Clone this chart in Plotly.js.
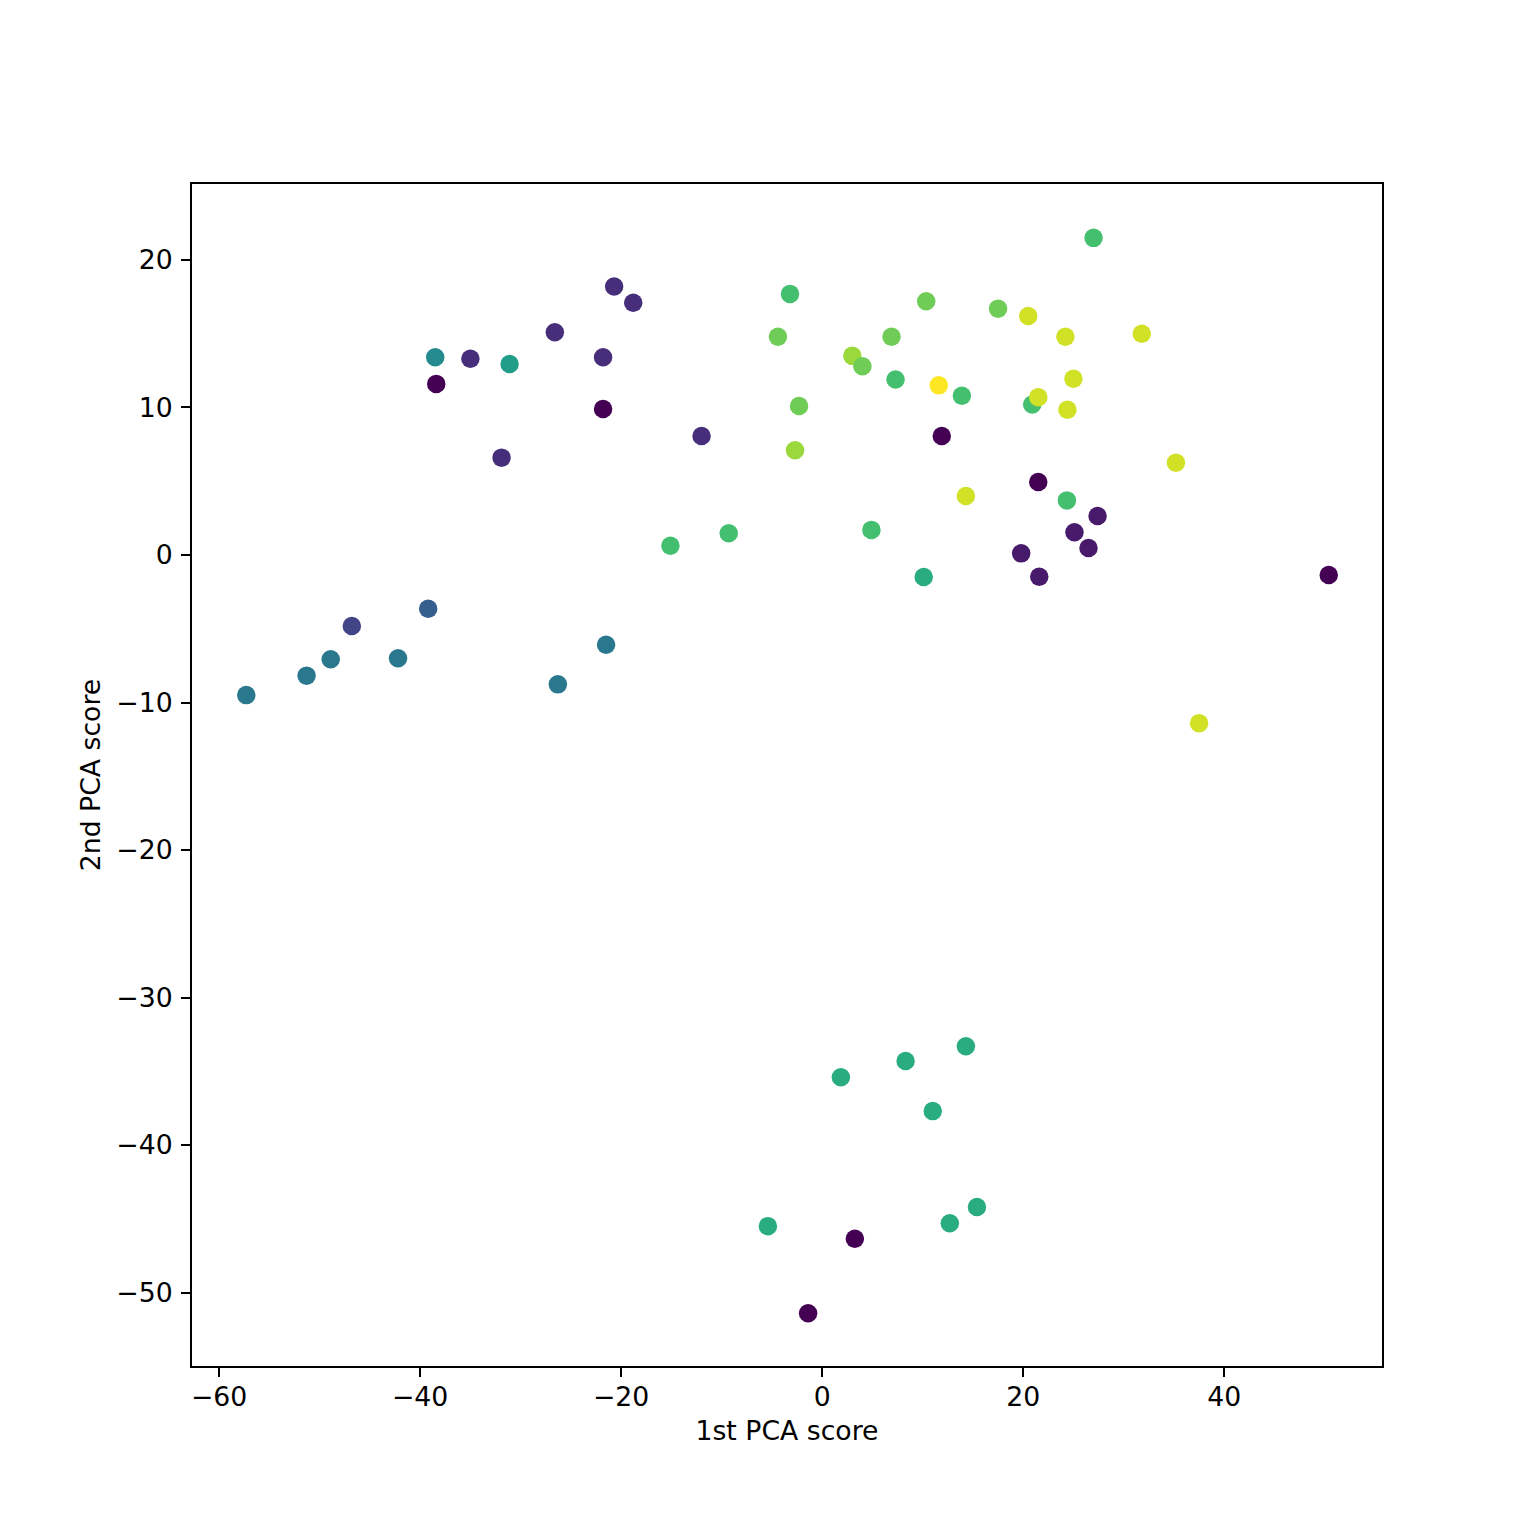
<!DOCTYPE html>
<html>
<head>
<meta charset="utf-8">
<script src="https://cdn.plot.ly/plotly-3.0.1.min.js"></script>
<style>html,body{margin:0;padding:0;background:#fff}</style>
</head>
<body>
<div id="chart" style="width:1536px;height:1536px"></div>
<script>
// 1st PCA score
const pc1 = [
  -20.7, -18.8, -26.6, -38.5, -35.0, -31.1, -38.4, -21.8, -21.8, -12.0, -31.9,
  27.0, -3.2, 10.35, 17.5, 20.5, -4.4, 6.9, 24.2, 31.8, 3.0, 4.0, 7.3, 11.6, 13.9, 20.9, 21.5, 25.0, 24.4, -2.3, -2.7, 11.9,
  35.2, 14.3, 21.5, 24.35, 27.4, 25.1, 26.5, 19.8, 21.6, 10.1, 50.4,
  -39.2, -46.8, -21.5, -42.2, -48.9, -51.3, -26.3, -57.3,
  -15.1, -9.3, 4.9,
  14.3, 8.3, 1.86, 11.0, 15.4, 12.7, -5.4, 3.25, -1.4,
  37.5
];
// 2nd PCA score
const pc2 = [
  18.2, 17.1, 15.1, 13.4, 13.3, 12.95, 11.6, 13.4, 9.9, 8.07, 6.6,
  21.5, 17.7, 17.2, 16.7, 16.2, 14.8, 14.8, 14.8, 15.0, 13.5, 12.8, 11.9, 11.5, 10.8, 10.2, 10.7, 11.95, 9.85, 10.1, 7.1, 8.07,
  6.26, 4.0, 4.95, 3.7, 2.64, 1.54, 0.47, 0.11, -1.47, -1.49, -1.36,
  -3.64, -4.81, -6.08, -7.0, -7.07, -8.18, -8.77, -9.5,
  0.63, 1.47, 1.7,
  -33.3, -34.3, -35.4, -37.7, -44.2, -45.3, -45.5, -46.35, -51.4,
  -11.4
];
// colour value (viridis, 0..1)
const group = [
  0.13, 0.13, 0.13, 0.47, 0.13, 0.55, 0.0, 0.13, 0.0, 0.13, 0.13,
  0.70, 0.70, 0.78, 0.78, 0.93, 0.78, 0.78, 0.93, 0.93, 0.85, 0.78, 0.70, 1.0, 0.70, 0.70, 0.93, 0.93, 0.93, 0.78, 0.85, 0.0,
  0.93, 0.93, 0.0, 0.70, 0.07, 0.07, 0.07, 0.07, 0.07, 0.62, 0.0,
  0.30, 0.20, 0.40, 0.40, 0.40, 0.40, 0.40, 0.40,
  0.70, 0.70, 0.70,
  0.62, 0.62, 0.62, 0.62, 0.62, 0.62, 0.62, 0.0, 0.0,
  0.93
];
const xTicks = [-60, -40, -20, 0, 20, 40];
const yTicks = [-50, -40, -30, -20, -10, 0, 10, 20];

const viridis = [
  [0.0, '#440154'], [0.1, '#482475'], [0.2, '#414487'], [0.3, '#355f8d'],
  [0.4, '#2a788e'], [0.5, '#21918c'], [0.6, '#22a884'], [0.7, '#44bf70'],
  [0.8, '#7ad151'], [0.9, '#bddf26'], [1.0, '#fde725']
];

const FS = 26.7;

const trace = {
  type: 'scatter', mode: 'markers',
  x: pc1, y: pc2,
  marker: {size: 18.5, color: group, colorscale: viridis, cmin: 0, cmax: 1, showscale: false, line: {width: 0}},
  hoverinfo: 'x+y'
};

const axisCommon = {
  showgrid: false, zeroline: false,
  showline: true, mirror: true, linecolor: '#000', linewidth: 2,
  ticks: 'outside', ticklen: 9, tickwidth: 2, tickcolor: '#000',
  tickfont: {family: 'DejaVu Sans', size: FS, color: '#000'}
};

const layout = {
  width: 1536, height: 1536,
  margin: {l: 192, r: 154, t: 184, b: 170, pad: 0},
  paper_bgcolor: '#fff', plot_bgcolor: '#fff',
  font: {family: 'DejaVu Sans', size: FS, color: '#000'},
  showlegend: false,
  xaxis: Object.assign({}, axisCommon, {
    range: [-62.7, 55.7], tickvals: xTicks, ticklabelstandoff: -3,
    title: {text: '1st PCA score', font: {family: 'DejaVu Sans', size: FS, color: '#000'}, standoff: 10}
  }),
  yaxis: Object.assign({}, axisCommon, {
    range: [-54.98, 25.15], tickvals: yTicks, ticklabelstandoff: 3,
    title: {text: '2nd PCA score', font: {family: 'DejaVu Sans', size: FS, color: '#000'}, standoff: 8}
  })
};

Plotly.newPlot('chart', [trace], layout, {staticPlot: true, displayModeBar: false});
</script>
</body>
</html>
